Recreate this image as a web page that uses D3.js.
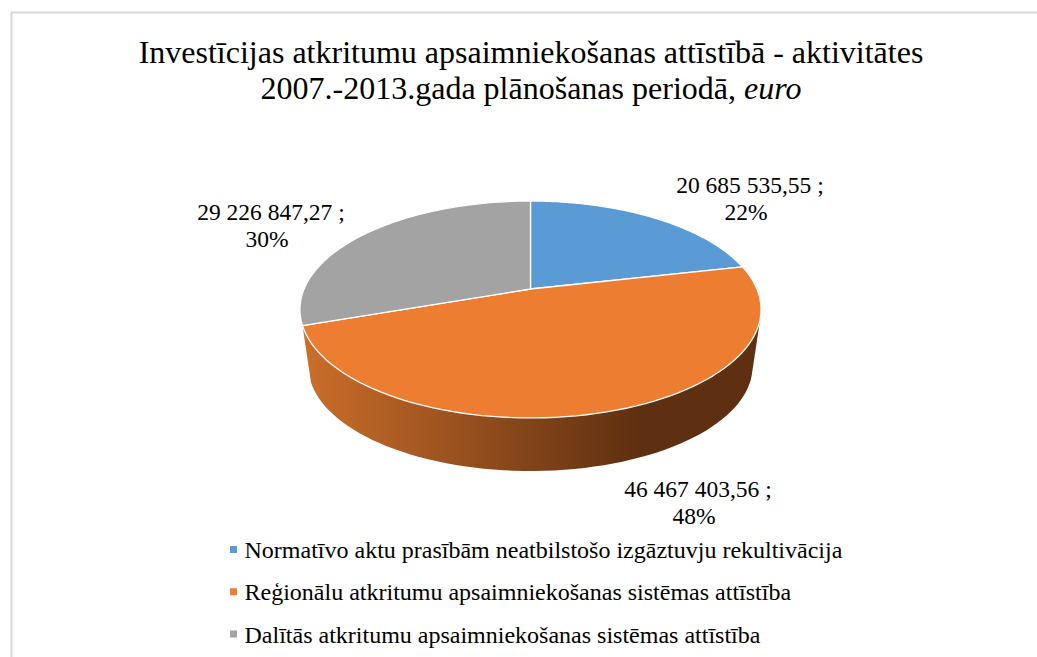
<!DOCTYPE html>
<html>
<head>
<meta charset="utf-8">
<script src="https://cdn.jsdelivr.net/npm/d3@7"></script>
<style>
  html, body { margin: 0; padding: 0; background: #fff; }
  svg { display: block; }
  text { font-family: "Liberation Serif", serif; fill: #000; }
</style>
</head>
<body>
<div id="chart"></div>
<script>
const categories = [
  "Normatīvo aktu prasībām neatbilstošo izgāztuvju rekultivācija",
  "Reģionālu atkritumu apsaimniekošanas sistēmas attīstība",
  "Dalītās atkritumu apsaimniekošanas sistēmas attīstība"
];
const values = [20685535.55, 46467403.56, 29226847.27];
const percents = ["22%", "48%", "30%"];
const colors = ["#5B9BD5", "#ED7D31", "#A3A3A3"];

const width = 1037, height = 657;
const cx = 530.5, cy = 289;

const svg = d3.select("#chart").append("svg")
  .attr("width", width)
  .attr("height", height);

// chart frame, only top and left are inside the crop
svg.append("path")
  .attr("d", "M11.5,657V12.5H1037")
  .attr("fill", "none")
  .attr("stroke", "#d9d9d9")
  .attr("stroke-width", 2);

// title
const title = svg.append("text").attr("text-anchor", "middle").attr("font-size", 32);
title.append("tspan").attr("x", 531).attr("y", 62.5)
  .text("Investīcijas atkritumu apsaimniekošanas attīstībā - aktivitātes");
const t2 = title.append("tspan").attr("x", 531).attr("y", 99);
t2.append("tspan").text("2007.-2013.gada plānošanas periodā, ");
t2.append("tspan").attr("font-style", "italic").text("euro");

// the pie is tilted with perspective, so angles go through a small projection
const persp = 0.189, scaleX = 226.4, scaleY = 104.6;
function topRim(a) {
  const d = 1 + persp * Math.cos(a);
  return [cx + scaleX * Math.sin(a) / d, cy - scaleY * Math.cos(a) / d];
}
// lower rim of the disc: top rim a bit smaller and pushed down
const rimScale = 0.963, rimDrop = 57.8;
function lowerRim(a) {
  const p = topRim(a);
  return [cx + (p[0] - cx) * rimScale, cy + rimDrop + (p[1] - cy) * rimScale];
}

const arcs = d3.pie().sort(null)(values);

function samples(s) {
  return d3.range(0, 81).map(i => s.startAngle + (s.endAngle - s.startAngle) * i / 80);
}

// gradient on the orange side wall
const grad = svg.append("defs").append("linearGradient")
  .attr("id", "wall")
  .attr("gradientUnits", "userSpaceOnUse")
  .attr("x1", 303).attr("x2", 640).attr("y1", 0).attr("y2", 0);
grad.append("stop").attr("offset", 0).attr("stop-color", "#CB6E2A");
grad.append("stop").attr("offset", 1).attr("stop-color", "#5E2F11");

const wallArc = arcs[1];
const wallPts = samples(wallArc).map(topRim).concat(samples(wallArc).map(lowerRim));
svg.append("path")
  .attr("d", "M" + d3.polygonHull(wallPts).join("L") + "Z")
  .attr("fill", "url(#wall)");

const line = d3.line();
svg.selectAll("path.slice")
  .data(arcs)
  .enter()
  .append("path")
  .attr("class", "slice")
  .attr("d", d => line([[cx, cy]].concat(samples(d).map(topRim))) + "Z")
  .attr("fill", (d, i) => colors[i])
  .attr("stroke", "#fff")
  .attr("stroke-width", 1.3)
  .attr("stroke-linejoin", "round");

// data labels
const fmt = v => {
  const parts = v.toFixed(2).split(".");
  return parts[0].replace(/\B(?=(\d{3})+$)/g, " ") + "," + parts[1];
};
const labelPos = [[750, 193], [698, 497], [271, 220]];
arcs.forEach((d, i) => {
  const t = svg.append("text")
    .attr("text-anchor", "middle")
    .attr("font-size", 23.5);
  t.append("tspan").attr("x", labelPos[i][0]).attr("y", labelPos[i][1])
    .text(fmt(values[i]) + " ;");
  t.append("tspan").attr("x", labelPos[i][0] - 4).attr("y", labelPos[i][1] + 27)
    .text(percents[i]);
});

// legend
const legendY = d3.scalePoint().domain(categories).range([558, 642.5]);
const legend = svg.selectAll("g.legend")
  .data(categories)
  .enter()
  .append("g")
  .attr("class", "legend")
  .attr("transform", d => "translate(0," + legendY(d) + ")");
legend.append("rect")
  .attr("x", 230).attr("y", -12)
  .attr("width", 7).attr("height", 7)
  .attr("fill", (d, i) => colors[i]);
legend.append("text")
  .attr("x", 244.5).attr("y", 0)
  .attr("font-size", 24)
  .text(d => d);
</script>
</body>
</html>
